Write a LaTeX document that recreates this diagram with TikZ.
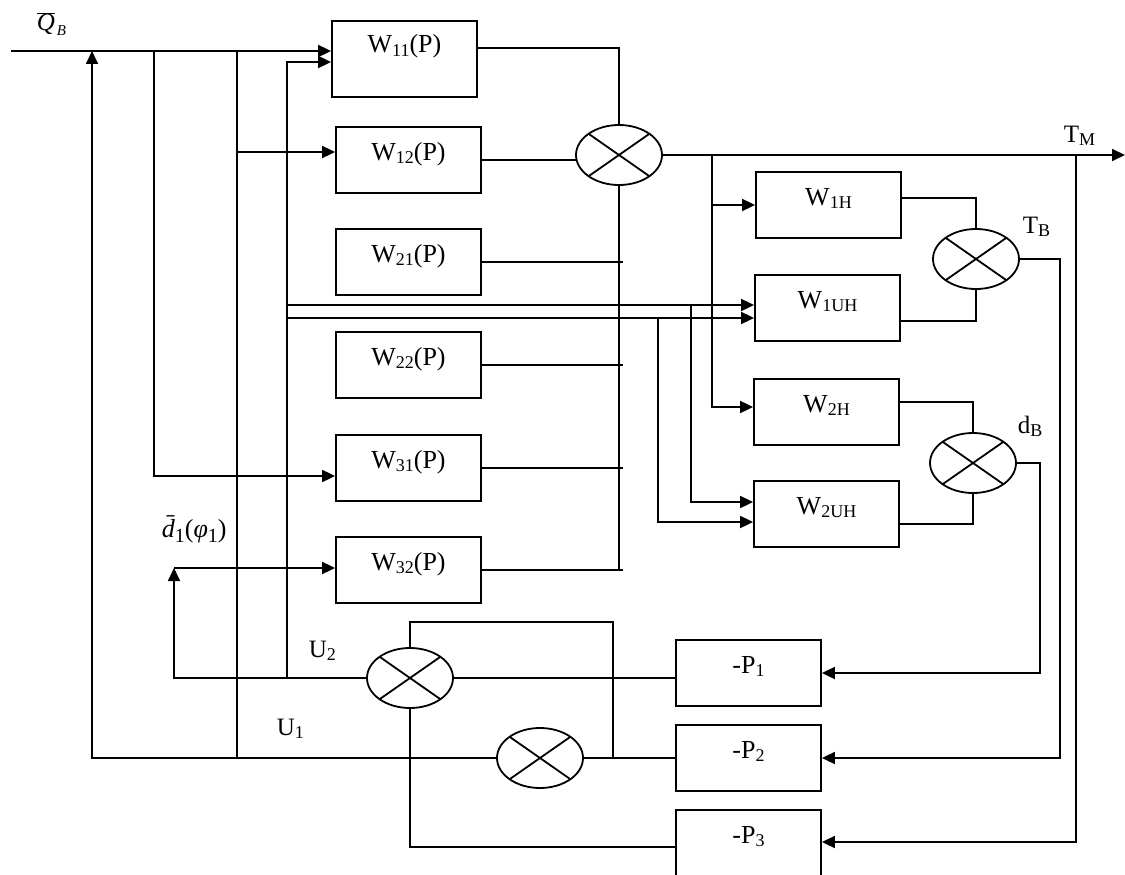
\documentclass[tikz,border=0pt]{standalone}
\usepackage{fontspec}
\setmainfont{Liberation Serif}
\usetikzlibrary{arrows.meta,shapes.geometric,calc}
\newcommand{\sbs}[1]{\raisebox{-3.5pt}{\fontsize{18}{20}\selectfont #1}}
\begin{document}
\begin{tikzpicture}[x=1pt,y=-1pt, line width=1.8pt,
  blk/.style={draw, rectangle, minimum width=145pt, inner sep=0pt,
    text height=33pt, text depth=33pt, font=\fontsize{26}{30}\selectfont},
  sum/.style={draw, ellipse, minimum width=86pt, minimum height=60pt,
    inner sep=0pt, outer sep=0pt},
  arr/.style={-{Triangle[length=13pt,width=12pt]}},
  lbl/.style={anchor=base west, inner sep=0pt, font=\fontsize{25}{30}\selectfont}]
\useasboundingbox (0,0) rectangle (1125,875);
\clip (0,0) rectangle (1125,875);

% blocks
\node[blk, text height=32pt, text depth=44pt] (w11) at (404.5,59) {W\sbs{11}(P)};
\node[blk] (w12) at (408.5,160) {W\sbs{12}(P)};
\node[blk] (w21) at (408.5,262) {W\sbs{21}(P)};
\node[blk] (w22) at (408.5,365) {W\sbs{22}(P)};
\node[blk] (w31) at (408.5,468) {W\sbs{31}(P)};
\node[blk] (w32) at (408.5,570) {W\sbs{32}(P)};
\node[blk] (w1h) at (828.5,205) {W\sbs{1H}};
\node[blk] (w1uh) at (827.5,308) {W\sbs{1UH}};
\node[blk] (w2h) at (826.5,412) {W\sbs{2H}};
\node[blk] (w2uh) at (826.5,514) {W\sbs{2UH}};
\node[blk] (p1) at (748.5,673) {-P\sbs{1}};
\node[blk] (p2) at (748.5,758) {-P\sbs{2}};
\node[blk, text depth=36pt] (p3) at (748.5,844.5) {-P\sbs{3}};

% summing junctions
\node[sum] (s1) at (619,155) {};
\node[sum] (s2) at (976,259) {};
\node[sum] (s3) at (973,463) {};
\node[sum] (s4) at (410,678) {};
\node[sum] (s5) at (540,758) {};
\foreach \n in {s1,s2,s3,s4,s5}
  \draw (\n.north east) -- (\n.south west) (\n.north west) -- (\n.south east);

% labels
\node[anchor=base west, inner sep=0pt, font=\fontsize{25}{30}\selectfont] (qb) at (36,31)
  {$\overline{\mbox{\itshape Q}}$\hspace{2pt}\raisebox{-5pt}{\fontsize{15}{16}\selectfont\itshape B}};
\node[lbl] (tm) at (1063,142) {T\sbs{M}};
\node[lbl] (tb) at (1022,233) {T\sbs{B}};
\node[lbl] (db) at (1017,433) {d\sbs{B}};
\node[lbl] (u2) at (308,657) {U\sbs{2}};
\node[lbl] (u1) at (276,735) {U\sbs{1}};
\node[anchor=base west, inner sep=0pt, font=\fontsize{26}{30}\selectfont] (d1l) at (161,537)
  {{\itshape\=d}\raisebox{-5pt}{\fontsize{20}{22}\selectfont 1}(\textit{φ}\raisebox{-5pt}{\fontsize{20}{22}\selectfont 1})};

% junction coordinates
\coordinate (qin) at (11,51);
\coordinate (jq1) at (92,51);
\coordinate (jq2) at (154,51);
\coordinate (jq3) at (237,51);
\coordinate (u1b) at (237,758);
\coordinate (j12) at (237,152);
\coordinate (u2b) at (287,678);
\coordinate (u2top) at (287,62);
\coordinate (ja) at (287,305);
\coordinate (jb) at (287,318);
\coordinate (jc) at (691,305);
\coordinate (jd) at (658,318);
\coordinate (d1) at (174,568);
\coordinate (tmend) at (1125,155);
\coordinate (j712) at (712,155);
\coordinate (jtm) at (1076,155);
\coordinate (jt2) at (1060,259);
\coordinate (jd2) at (1040,463);
\coordinate (jtop) at (613,622);

% input side
\draw[arr] (qin) -- (w11.west |- qin);
\draw[arr] (s5.west) -| (jq1);
\draw (jq3) -- (u1b);
\draw[arr] (j12) -- (w12.west |- j12);
\draw[arr] (jq2) |- ($(w31.west)+(0,8)$);
\draw[arr] (u2b) -- (u2top) -- (w11.west |- u2top);
\draw[arr] (ja) -- (w1uh.west |- ja);
\draw[arr] (jb) -- (w1uh.west |- jb);
\draw[arr] (jc) |- ($(w2uh.west)+(0,-12)$);
\draw[arr] (jd) |- ($(w2uh.west)+(0,8)$);
\draw[arr] (s4.west) -| (d1);
\draw[arr] (d1) -- (w32.west |- d1);

% first summing junction
\draw ($(w11.east)+(0,-11)$) -| (s1.north);
\draw (w12.east) -- (w12.east -| s1.west);
\draw (w21.east) -- ++(141,0);
\draw (w22.east) -- ++(141,0);
\draw (w31.east) -- ++(141,0);
\draw (w32.east) -- ++(141,0);
\draw (s1.south) -- (s1.south |- w32.east);
\draw[arr] (s1.east) -- (tmend);

% right blocks
\draw[arr] (j712) |- ($(w2h.west)+(0,-5)$);
\draw[arr] (j712 |- w1h.west) -- (w1h.west);
\draw ($(w1h.east)+(0,-7)$) -| (s2.north);
\draw ($(w1uh.east)+(0,13)$) -| (s2.south);
\draw ($(w2h.east)+(0,-10)$) -| (s3.north);
\draw ($(w2uh.east)+(0,10)$) -| (s3.south);

% feedback
\draw[arr] (s2.east) -- (jt2) |- (p2.east);
\draw[arr] (s3.east) -- (jd2) |- (p1.east);
\draw[arr] (jtm) |- ($(p3.east)+(0,-2.5)$);

% bottom
\draw (s4.east) -- (s4.east -| p1.west);
\draw (s4.north) |- (jtop) -- (jtop |- s5.east);
\draw (s4.south) |- ($(p3.west)+(0,2.5)$);
\draw (s5.east) -- (p2.west);
\end{tikzpicture}
\end{document}
